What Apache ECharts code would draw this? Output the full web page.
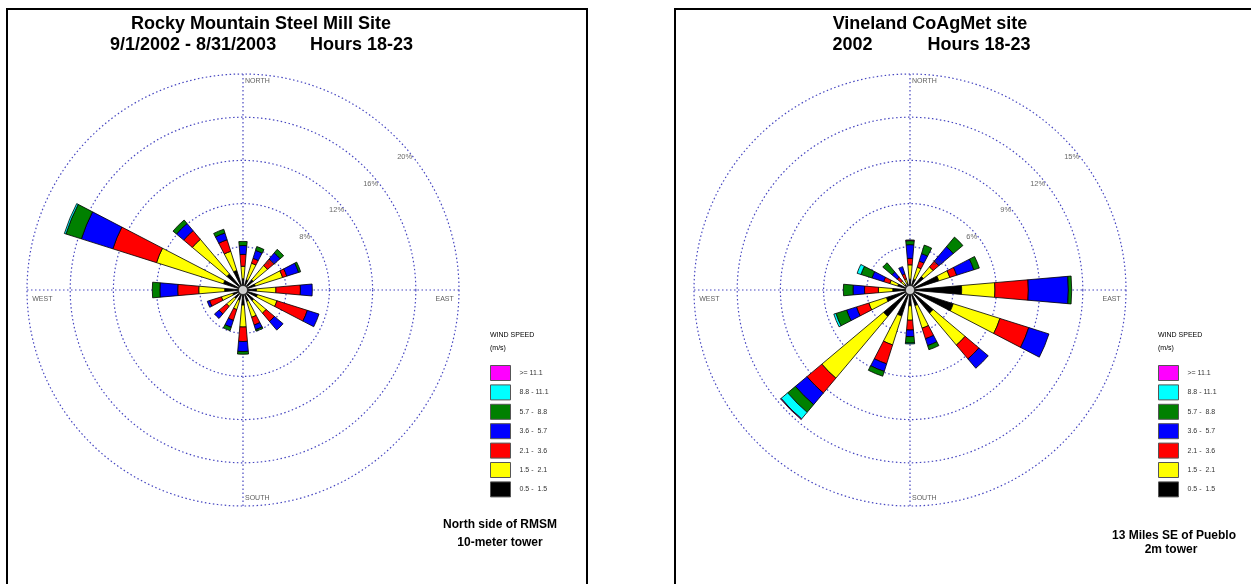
<!DOCTYPE html>
<html>
<head>
<meta charset="utf-8">
<script src="https://cdn.jsdelivr.net/npm/echarts@6/dist/echarts.min.js"></script>
<style>
html,body{margin:0;padding:0;background:#fff;}
#chart{width:1251px;height:584px;}
</style>
</head>
<body>
<div id="chart"></div>
<script>
// ---------------- DATA ----------------
const DIRECTIONS = ['N','NNE','NE','ENE','E','ESE','SE','SSE','S','SSW','SW','WSW','W','WNW','NW','NNW'];
const SPEED_CLASSES = ['0.5 -  1.5','1.5 -  2.1','2.1 -  3.6','3.6 -  5.7','5.7 -  8.8','8.8 - 11.1','>= 11.1'];
const LEGEND_ORDER = ['>= 11.1','8.8 - 11.1','5.7 -  8.8','3.6 -  5.7','2.1 -  3.6','1.5 -  2.1','0.5 -  1.5'];

// Rocky Mountain Steel Mill (percent of hours per direction, per speed class)
const L_CALM05_15 = [1.05,1.00,1.25,1.20,1.25,1.40,1.30,1.10,1.40,1.00,1.03,1.00,1.70,1.90,1.95,1.90];
const L_15_21     = [1.15,1.60,1.72,2.65,1.80,1.90,1.50,1.55,2.03,0.90,0.97,1.10,2.40,6.50,4.18,1.86];
const L_21_36     = [1.10,0.47,0.78,0.40,2.27,2.95,1.00,0.75,1.34,1.05,0.90,1.15,1.95,4.24,1.05,1.12];
const L_36_57     = [0.82,0.78,0.75,1.15,1.10,1.13,1.05,0.45,0.93,0.67,0.55,0.22,1.65,3.06,0.87,0.66];
const L_57_88     = [0.38,0.37,0.42,0.20,0.00,0.00,0.00,0.15,0.25,0.33,0.00,0.00,0.70,1.50,0.42,0.36];
const L_88_111    = [0,0,0,0,0,0,0,0,0,0,0,0,0,0.15,0,0];
const L_GE111     = [0,0,0,0,0,0,0,0,0,0,0,0,0,0,0,0];

// Vineland CoAgMet
const R_CALM05_15 = [0.75,0.78,1.23,2.10,3.59,3.15,2.10,1.14,1.10,1.90,2.40,1.72,1.20,0.90,0.50,0.50];
const R_15_21     = [1.00,0.88,0.87,0.80,2.31,3.40,2.90,1.64,1.00,2.10,5.60,1.28,1.00,0.57,0.30,0.30];
const R_21_36     = [0.45,0.44,0.52,0.50,2.32,2.10,1.25,0.77,0.68,1.38,1.35,0.90,0.96,0.45,0.37,0.38];
const R_36_57     = [0.95,0.55,1.31,1.25,2.78,1.47,0.85,0.50,0.46,0.55,1.05,0.72,0.80,0.85,0.48,0.52];
const R_57_88     = [0.28,0.62,0.87,0.40,0.23,0.00,0.00,0.30,0.45,0.35,0.70,0.78,0.67,0.80,0.82,0.00];
const R_88_111    = [0,0,0,0,0,0,0,0,0.06,0,0.60,0.15,0,0.28,0,0];
const R_GE111     = [0.05,0,0,0,0,0,0,0,0,0,0.05,0,0,0,0,0];

const L_RING_TICKS = [4,8,12,16,20];
const R_RING_TICKS = [3,6,9,12,15];
const COMPASS = ['NORTH','EAST','SOUTH','WEST'];

// ---------------- STYLE / LAYOUT ----------------
const COLORS = ['#000000','#ffff00','#ff0000','#0000ff','#008000','#00ffff','#ff00ff'];
const DOT = {type:[1.5,2.5], color:'#4646c0', width:1.2};
const R = 216;
const LC = [243,290], RC = [910,290];

function hiddenAxes(){
  return {axisLine:{show:false}, axisTick:{show:false}, axisLabel:{show:false}, splitLine:{show:false}, splitArea:{show:false}};
}

function roseSeries(polarIndex, stack, arrays){
  return arrays.map((arr,i)=>({
    name: SPEED_CLASSES[i], type:'bar', coordinateSystem:'polar', polarIndex, stack,
    barWidth:'44%', data: arr.map(v => v > 0 ? v : '-'),
    itemStyle:{color:COLORS[i], borderColor:'#000', borderWidth:0.8},
    silent:true, z:2
  }));
}

function decorSeries(polarIndex, ticks, max){
  const fontFamily = 'Liberation Sans, Arial, sans-serif';
  const compassPos = [
    {value:[max*0.965, 0],   label:{position:'right', offset:[0,0]}},
    {value:[max*0.985, 90],  label:{position:'left',  offset:[0,9]}},
    {value:[max*0.962, 180], label:{position:'right', offset:[0,0]}},
    {value:[max*0.985, 270], label:{position:'right', offset:[0,9]}}
  ];
  return [
    {
      type:'scatter', coordinateSystem:'polar', polarIndex, symbolSize:0, silent:true, z:5,
      data: ticks.map(v => ({value:[v, 52], name: v + '%'})),
      label:{show:true, position:'left', distance:1, formatter:'{b}', fontSize:7.5, color:'#444', fontFamily}
    },
    {
      type:'scatter', coordinateSystem:'polar', polarIndex, symbolSize:0, silent:true, z:5,
      data: COMPASS.map((c,i)=>Object.assign({name:c}, compassPos[i])),
      label:{show:true, distance:2, formatter:'{b}', fontSize:7, color:'#333', fontFamily}
    },
    {
      type:'scatter', coordinateSystem:'polar', polarIndex, silent:true, z:10,
      symbolSize:9, data:[[0,0]],
      itemStyle:{color:'#fff', borderColor:'#000', borderWidth:0.8}, label:{show:false}
    }
  ];
}

function legendFor(left){
  return {
    orient:'vertical', left, top:365, padding:0,
    itemWidth:20, itemHeight:15, itemGap:3.4, icon:'rect', selectedMode:false,
    data: LEGEND_ORDER,
    itemStyle:{borderColor:'#555', borderWidth:1},
    textStyle:{fontSize:7, color:'#333', fontFamily:'Liberation Sans, Arial, sans-serif', padding:[0,0,0,4]}
  };
}

const boldFont = (s) => 'bold ' + s + 'px "Liberation Sans", Arial, sans-serif';
const plainFont = (s) => s + 'px "Liberation Sans", Arial, sans-serif';

function txt(text, x, y, font, align){
  return {type:'text', x, y, style:{text, font, fill:'#000', textAlign:align||'left', textVerticalAlign:'middle'}, silent:true, z:20};
}

const option = {
  animation:false,
  backgroundColor:'#fff',
  polar:[
    {center:LC, radius:R},
    {center:LC, radius:R},
    {center:RC, radius:R},
    {center:RC, radius:R}
  ],
  angleAxis:[
    Object.assign({polarIndex:0, type:'category', data:DIRECTIONS, startAngle:101.25, clockwise:true}, hiddenAxes()),
    {polarIndex:1, type:'value', min:0, max:360, interval:90, startAngle:90, clockwise:true,
      axisLine:{show:false}, axisTick:{show:false}, axisLabel:{show:false}, splitLine:{show:true, lineStyle:DOT}},
    Object.assign({polarIndex:2, type:'category', data:DIRECTIONS, startAngle:101.25, clockwise:true}, hiddenAxes()),
    {polarIndex:3, type:'value', min:0, max:360, interval:90, startAngle:90, clockwise:true,
      axisLine:{show:false}, axisTick:{show:false}, axisLabel:{show:false}, splitLine:{show:true, lineStyle:DOT}}
  ],
  radiusAxis:[
    Object.assign({polarIndex:0, type:'value', min:0, max:20}, hiddenAxes()),
    {polarIndex:1, type:'value', min:0, max:20, interval:4,
      axisLine:{show:false}, axisTick:{show:false}, axisLabel:{show:false}, splitLine:{show:true, lineStyle:DOT}},
    Object.assign({polarIndex:2, type:'value', min:0, max:15}, hiddenAxes()),
    {polarIndex:3, type:'value', min:0, max:15, interval:3,
      axisLine:{show:false}, axisTick:{show:false}, axisLabel:{show:false}, splitLine:{show:true, lineStyle:DOT}}
  ],
  legend:[legendFor(490), legendFor(1158)],
  series:[].concat(
    roseSeries(0, 'L', [L_CALM05_15,L_15_21,L_21_36,L_36_57,L_57_88,L_88_111,L_GE111]),
    decorSeries(1, L_RING_TICKS, 20),
    roseSeries(2, 'R', [R_CALM05_15,R_15_21,R_21_36,R_36_57,R_57_88,R_88_111,R_GE111]),
    decorSeries(3, R_RING_TICKS, 15)
  ),
  graphic:[
    {type:'rect', shape:{x:7, y:9, width:580, height:640}, style:{fill:'none', stroke:'#000', lineWidth:2}, silent:true},
    {type:'rect', shape:{x:675, y:9, width:640, height:640}, style:{fill:'none', stroke:'#000', lineWidth:2}, silent:true},
    txt('Rocky Mountain Steel Mill Site', 261, 24, boldFont(18), 'center'),
    txt('9/1/2002 - 8/31/2003', 110, 45.5, boldFont(18)),
    txt('Hours 18-23', 310, 45.5, boldFont(18)),
    txt('Vineland CoAgMet site', 930, 24, boldFont(18), 'center'),
    txt('2002', 832.5, 45.5, boldFont(18)),
    txt('Hours 18-23', 927.5, 45.5, boldFont(18)),
    txt('WIND SPEED', 490, 335, plainFont(7)),
    txt('(m/s)', 490, 348.5, plainFont(7)),
    txt('WIND SPEED', 1158, 335, plainFont(7)),
    txt('(m/s)', 1158, 348.5, plainFont(7)),
    txt('North side of RMSM', 500, 525, boldFont(12), 'center'),
    txt('10-meter tower', 500, 542.5, boldFont(12), 'center'),
    txt('13 Miles SE of Pueblo', 1174, 536, boldFont(12), 'center'),
    txt('2m tower', 1171, 550, boldFont(12), 'center')
  ]
};

const chart = echarts.init(document.getElementById('chart'), null, {renderer:'canvas'});
chart.setOption(option);
</script>
</body>
</html>
